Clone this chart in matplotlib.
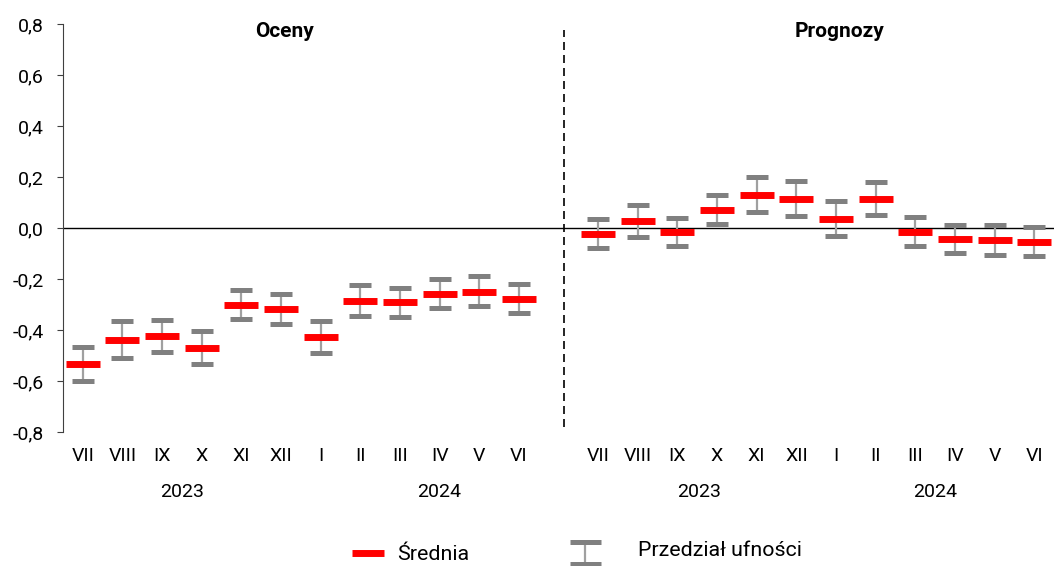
import matplotlib
matplotlib.use('Agg')
import matplotlib.pyplot as plt
from matplotlib.lines import Line2D
import numpy as np

plt.rcParams['font.family'] = ['Roboto', 'DejaVu Sans']

months = ["VII", "VIII", "IX", "X", "XI", "XII", "I", "II", "III", "IV", "V", "VI"]

# Oceny (oceny bieżące)
oceny_mean = [-0.535, -0.440, -0.425, -0.472, -0.303, -0.319, -0.429, -0.288, -0.291, -0.260, -0.252, -0.280]
oceny_lo = [-0.601, -0.511, -0.488, -0.535, -0.358, -0.378, -0.491, -0.346, -0.350, -0.315, -0.307, -0.335]
oceny_hi = [-0.468, -0.366, -0.362, -0.405, -0.244, -0.260, -0.366, -0.225, -0.236, -0.200, -0.188, -0.221]

# Prognozy
progn_mean = [-0.022, 0.026, -0.017, 0.069, 0.128, 0.113, 0.034, 0.113, -0.014, -0.044, -0.048, -0.056]
progn_lo = [-0.080, -0.036, -0.072, 0.015, 0.062, 0.046, -0.033, 0.050, -0.072, -0.099, -0.107, -0.111]
progn_hi = [0.034, 0.089, 0.038, 0.128, 0.199, 0.183, 0.105, 0.179, 0.042, 0.011, 0.011, 0.003]

years = ["2023", "2024", "2023", "2024"]
year_pos = [2.5, 9.0, 15.55, 21.5]
panel_titles = ["Oceny", "Prognozy"]
title_pos = [5.1, 19.1]
yticks = [-0.8, -0.6, -0.4, -0.2, 0.0, 0.2, 0.4, 0.6, 0.8]

mean = np.array(oceny_mean + [np.nan] + progn_mean)
lo = np.array(oceny_lo + [np.nan] + progn_lo)
hi = np.array(oceny_hi + [np.nan] + progn_hi)
labels = months + [""] + months
x = np.arange(len(mean))

fig = plt.figure(figsize=(10.54, 5.66), dpi=100)
ax = fig.add_axes([63 / 1054, 1 - 432 / 566, 1 - 63 / 1054, 408 / 566])

ax.axhline(0, color='black', lw=1.0, zorder=1)
# separator between Oceny and Prognozy
ax.axvline(12.15, ymin=0.012, ymax=0.985, color='black', lw=1.2, dashes=(4.8, 3), zorder=1)

yerr = [mean - lo, hi - mean]
# vertical whisker
ax.errorbar(x, mean, yerr=yerr, fmt='none', ecolor='#a0a0a0', elinewidth=1.6, capsize=0, zorder=2)
# caps
ax.errorbar(x, mean, yerr=yerr, fmt='none', ecolor='#808080', elinewidth=0,
            capsize=7.9, capthick=3.6, zorder=3)
# mean
ax.plot(x, mean, ls='none', marker='_', ms=23.8, mew=5.0, color='#ff0000', zorder=4)

ax.set_xlim(-0.5, 24.5)
ax.set_ylim(-0.8, 0.8)
ax.set_yticks(yticks)
ax.set_yticklabels([f"{v:.1f}".replace('.', ',') for v in yticks])
ax.set_xticks(x)
ax.set_xticklabels(labels)
ax.tick_params(axis='x', length=0, pad=11, labelsize=14)
ax.tick_params(axis='y', length=4.3, pad=9.5, labelsize=14, color='#404040')
for s in ['top', 'right', 'bottom']:
    ax.spines[s].set_visible(False)
ax.spines['left'].set_color('#404040')

trans = ax.get_xaxis_transform()
for yr, p in zip(years, year_pos):
    ax.text(p, -0.147, yr, transform=trans, ha='center', va='center', fontsize=14)
for t, p in zip(panel_titles, title_pos):
    ax.text(p, 0.772, t, ha='center', va='center', fontsize=15, fontweight='bold')

# legenda
fy = lambda py: 1 - py / 566
fx = lambda px: px / 1054
fig.add_artist(Line2D([fx(352), fx(384)], [fy(553), fy(553)], color='#ff0000', lw=5.0,
                      solid_capstyle='butt'))
fig.text(fx(397), fy(555), "Średnia", ha='left', va='center', fontsize=15.4)
fig.add_artist(Line2D([fx(585), fx(585)], [fy(542), fy(564)], color='#a0a0a0', lw=1.6))
for py in (542, 564):
    fig.add_artist(Line2D([fx(570), fx(601)], [fy(py), fy(py)], color='#808080', lw=3.6,
                          solid_capstyle='butt'))
fig.text(fx(638), fy(551), "Przedział ufności", ha='left', va='center', fontsize=15.4)

plt.savefig('out.png', dpi=100)
